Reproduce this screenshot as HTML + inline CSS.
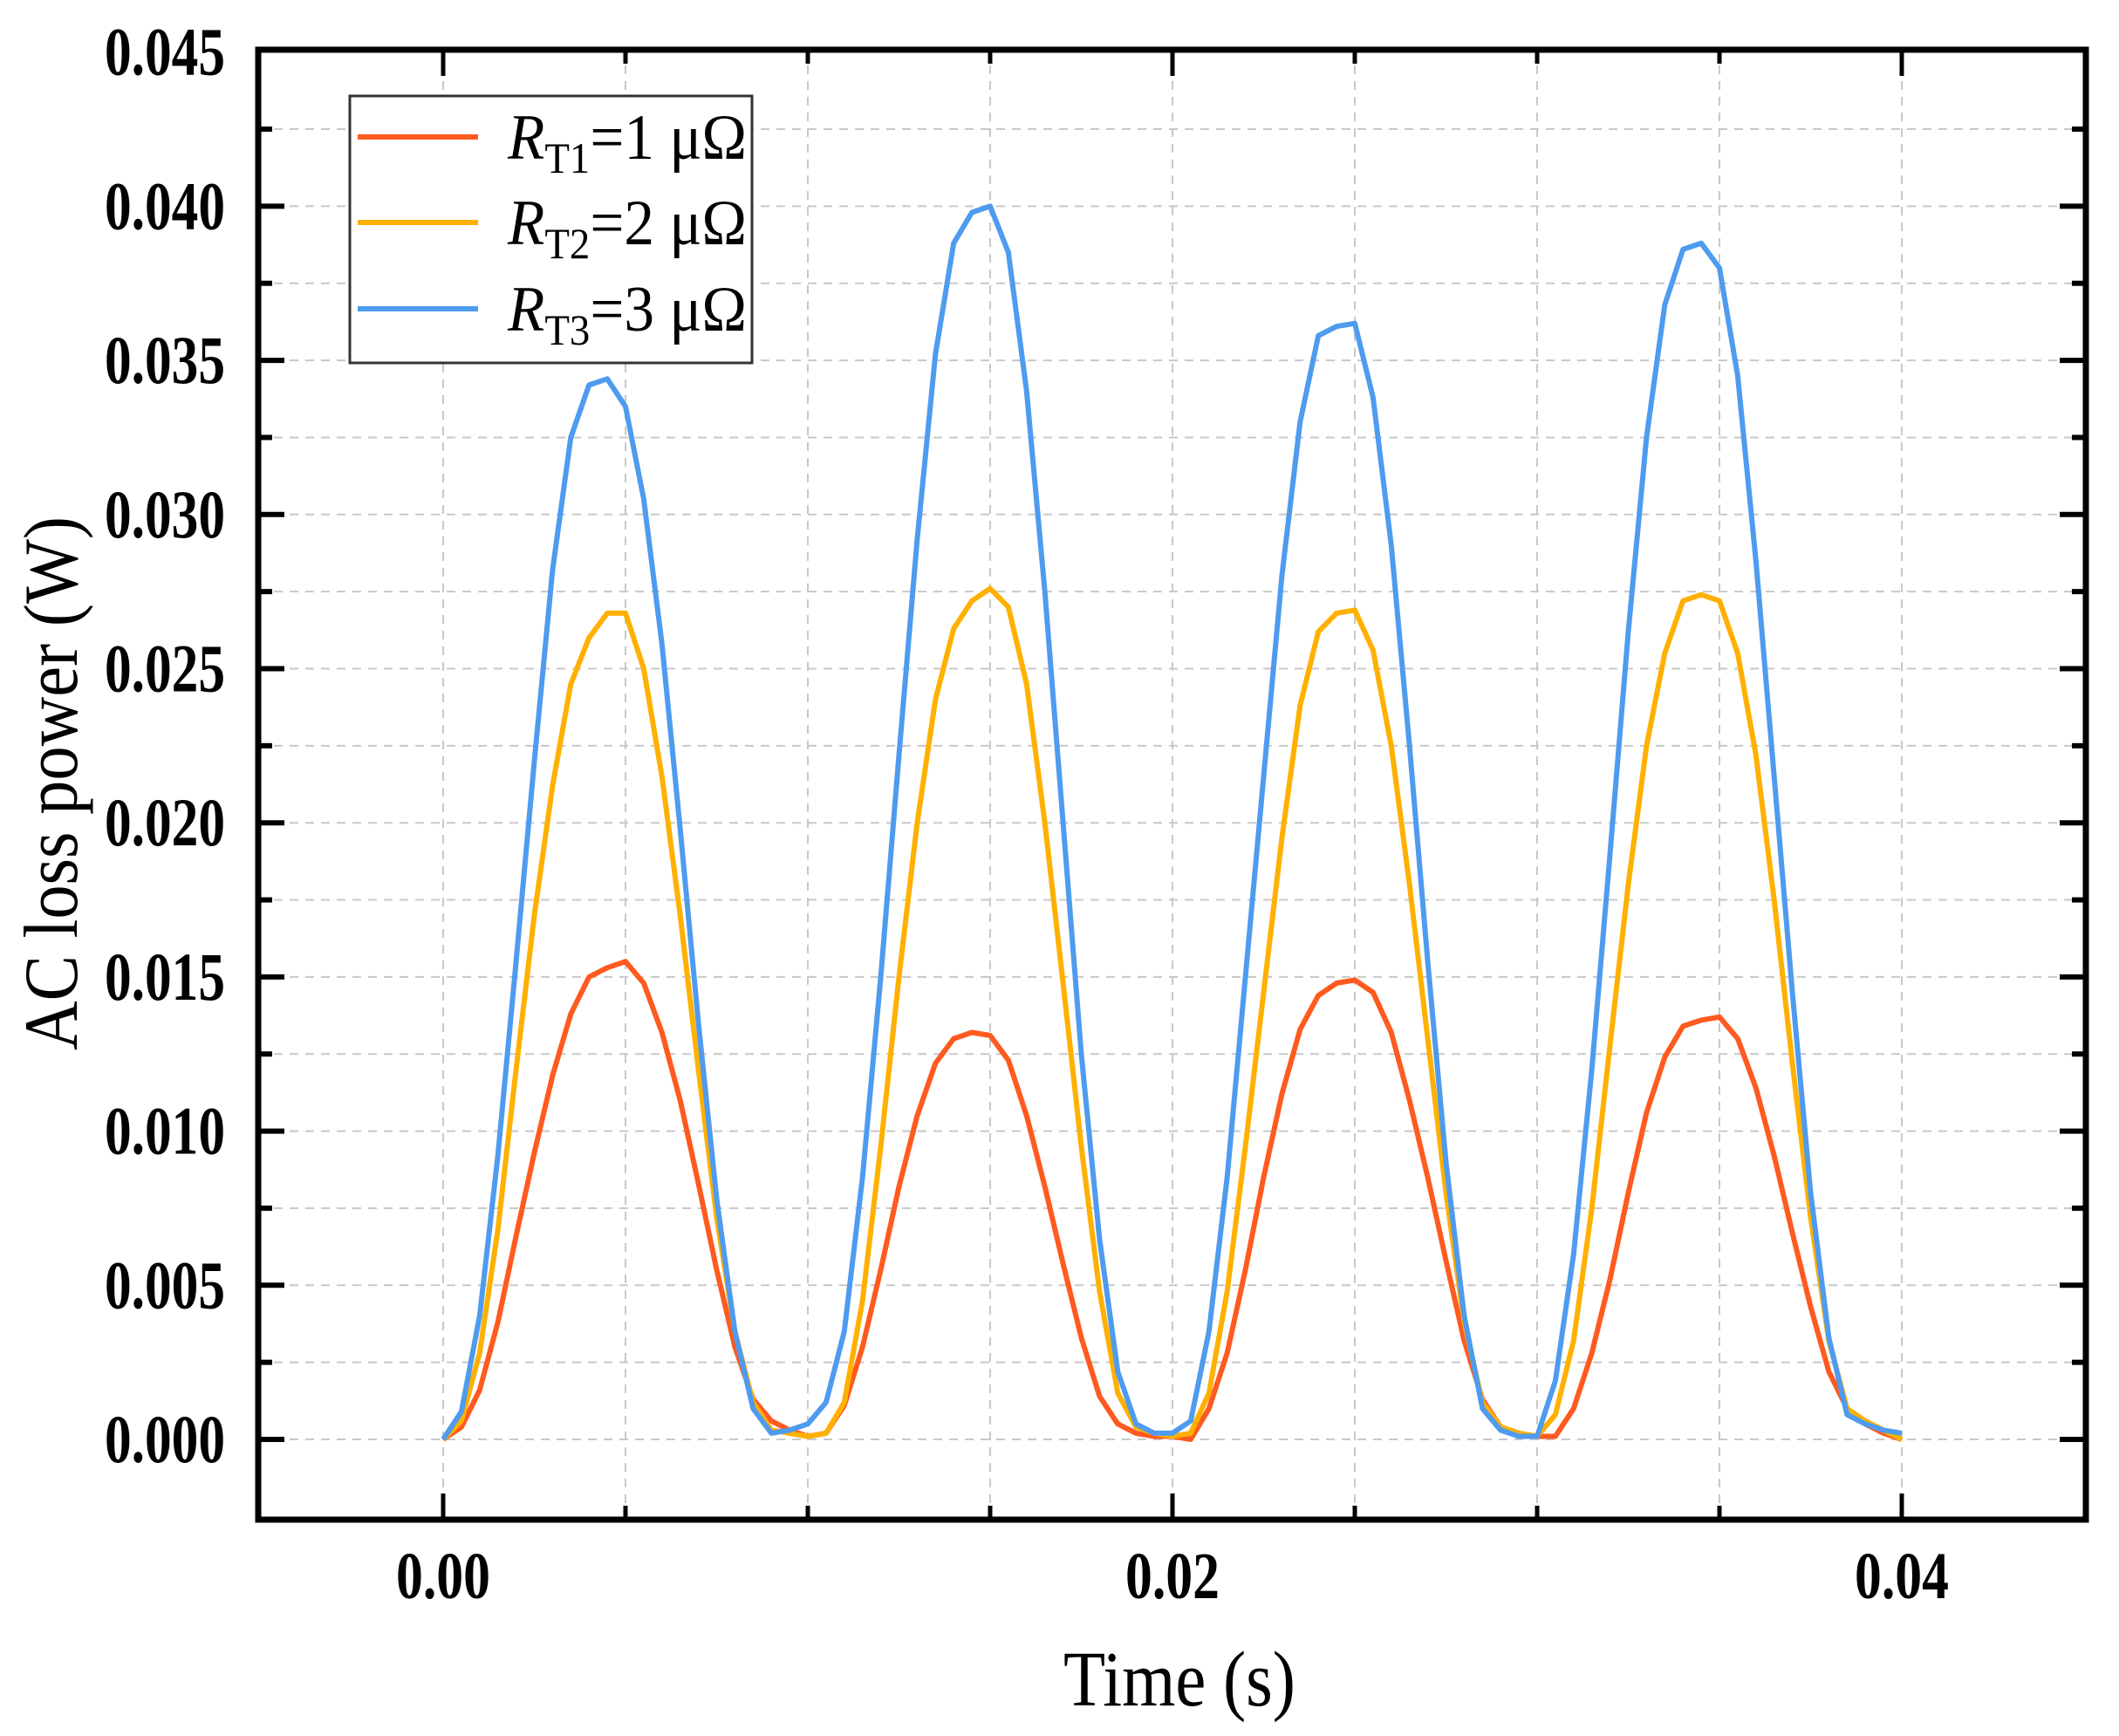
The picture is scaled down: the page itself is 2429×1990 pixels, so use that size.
<!DOCTYPE html>
<html><head><meta charset="utf-8"><style>
html,body{margin:0;padding:0;background:#fff;}
svg{display:block;}
text{font-family:"Liberation Serif",serif;}
</style></head><body>
<svg id="chart" width="2429" height="1990" viewBox="0 0 2429 1990" xmlns="http://www.w3.org/2000/svg">
<g id="grid"></g>
<g id="series"></g>
<g id="axes"></g>
<g id="legend">
  <rect x="401" y="110" width="461" height="306" fill="#fff" stroke="#333" stroke-width="3"/>
  <line x1="410" y1="157" x2="548" y2="157" stroke="#FF5A1F" stroke-width="6"/>
  <text x="582" y="182" font-size="74" textLength="274" lengthAdjust="spacingAndGlyphs"><tspan font-style="italic">R</tspan><tspan font-size="50" dy="16">T1</tspan><tspan dy="-16">=1 μΩ</tspan></text>
  <line x1="410" y1="255" x2="548" y2="255" stroke="#FFB000" stroke-width="6"/>
  <text x="582" y="280" font-size="74" textLength="274" lengthAdjust="spacingAndGlyphs"><tspan font-style="italic">R</tspan><tspan font-size="50" dy="16">T2</tspan><tspan dy="-16">=2 μΩ</tspan></text>
  <line x1="410" y1="354" x2="548" y2="354" stroke="#4E9BEF" stroke-width="6"/>
  <text x="582" y="379" font-size="74" textLength="274" lengthAdjust="spacingAndGlyphs"><tspan font-style="italic">R</tspan><tspan font-size="50" dy="16">T3</tspan><tspan dy="-16">=3 μΩ</tspan></text>
</g>
<text transform="translate(88,898) rotate(-90)" text-anchor="middle" font-size="88" textLength="612" lengthAdjust="spacingAndGlyphs">AC loss power (W)</text>
<text x="1352" y="1955" text-anchor="middle" font-size="90" textLength="266" lengthAdjust="spacingAndGlyphs">Time (s)</text>
</svg>
<script>
const xTickValues = [0, 0.02, 0.04];
const xTickLabels = ["0.00", "0.02", "0.04"];
const yTickValues = [0, 0.005, 0.01, 0.015, 0.02, 0.025, 0.03, 0.035, 0.04, 0.045];
const yTickLabels = ["0.000","0.005","0.010","0.015","0.020","0.025","0.030","0.035","0.040","0.045"];
const timeStep = 0.0005;
const rt1Values = [0,.0004,.0016,.0038,.0066,.0093,.0118,.0138,.0150,.0153,.0155,.0148,.0132,.0110,.0083,.0055,.0030,.0013,.0006,.0003,
 .0001,.0002,.0011,.0030,.0055,.0082,.0105,.0122,.0130,.0132,.0131,.0123,.0105,.0082,.0057,.0033,.0014,.0005,.0002,.0001,
 .0001,.0000,.0010,.0028,.0055,.0085,.0112,.0133,.0144,.0148,.0149,.0145,.0132,.0110,.0085,.0058,.0032,.0013,.0004,.0002,
 .0001,.0001,.0010,.0028,.0052,.0080,.0106,.0124,.0134,.0136,.0137,.0130,.0114,.0092,.0067,.0043,.0022,.0010,.0005,.0002,.0000];
const rt2Values = [0,.0006,.0028,.0068,.0120,.0170,.0212,.0245,.0260,.0268,.0268,.0250,.0215,.0170,.0120,.0072,.0035,.0012,.0003,.0002,
 .0001,.0002,.0012,.0045,.0095,.0150,.0200,.0240,.0263,.0272,.0276,.0270,.0245,.0200,.0148,.0095,.0048,.0015,.0004,.0002,
 .0001,.0002,.0015,.0048,.0095,.0145,.0195,.0238,.0262,.0268,.0269,.0256,.0225,.0180,.0130,.0080,.0038,.0012,.0004,.0002,
 .0001,.0008,.0032,.0075,.0128,.0180,.0225,.0255,.0272,.0274,.0272,.0255,.0222,.0175,.0122,.0072,.0032,.0010,.0006,.0003,.0000];
const rt3Values = [0,.0009,.0040,.0092,.0155,.0220,.0282,.0325,.0342,.0344,.0335,.0305,.0258,.0198,.0135,.0078,.0035,.0010,.0002,.0003,
 .0005,.0012,.0035,.0085,.0150,.0222,.0292,.0352,.0388,.0398,.0400,.0385,.0340,.0275,.0200,.0125,.0065,.0022,.0005,.0002,
 .0002,.0006,.0035,.0085,.0150,.0215,.0280,.0330,.0358,.0361,.0362,.0338,.0290,.0225,.0155,.0090,.0040,.0010,.0003,.0001,
 .0001,.0019,.0060,.0120,.0190,.0262,.0325,.0368,.0386,.0388,.0380,.0345,.0285,.0215,.0145,.0080,.0033,.0008,.0005,.0003,.0002];
const seriesColors = ["#FF5A1F", "#FFB000", "#4E9BEF"];

const L = 296, R = 2391, T = 57, B = 1742;
function xs(t){ return 508 + 41800 * t; }
function ys(v){ return 1650 - 35340 * v; }
const NS = "http://www.w3.org/2000/svg";
function mk(tag, attrs, parent){ const e = document.createElementNS(NS, tag); for (const k in attrs) e.setAttribute(k, attrs[k]); parent.appendChild(e); return e; }

const grid = document.getElementById('grid');
for (let i = 0; i <= 8; i++) {
  const x = xs(i * 0.005);
  const g = mk('line', {x1:x, y1:T, x2:x, y2:B, stroke:'#c8c8c8', 'stroke-width':2, 'stroke-dasharray':'10,8'}, grid);
  
  
}
for (let i = 0; i <= 17; i++) {
  const y = ys(i * 0.0025);
  const g = mk('line', {x1:L, y1:y, x2:R, y2:y, stroke:'#c8c8c8', 'stroke-width':2, 'stroke-dasharray':'10,8'}, grid);
  
  
}

const series = document.getElementById('series');
const all = [rt1Values, rt2Values, rt3Values];
const names = ['series-rt1', 'series-rt2', 'series-rt3'];
all.forEach((vals, si) => {
  const pts = vals.map((v, i) => xs(i * timeStep).toFixed(1) + ',' + ys(v).toFixed(1)).join(' ');
  const p = mk('polyline', {points:pts, fill:'none', stroke:seriesColors[si], 'stroke-width':6, 'stroke-linejoin':'round'}, series);
  
  
});

const axes = document.getElementById('axes');
const frame = mk('rect', {x:L, y:T, width:R-L, height:B-T, fill:'none', stroke:'#000', 'stroke-width':7}, axes);


for (let i = 0; i <= 17; i++) {
  const v = i * 0.0025, y = ys(v), len = (i % 2 === 0) ? 30 : 16;
  const t1 = mk('line', {x1:L, y1:y, x2:L+len, y2:y, stroke:'#000', 'stroke-width':6}, axes);
  
  
  const t2 = mk('line', {x1:R, y1:y, x2:R-len, y2:y, stroke:'#000', 'stroke-width':6}, axes);
  
  
}
for (let i = 0; i <= 8; i++) {
  const x = xs(i * 0.005), len = (i % 4 === 0) ? 30 : 16;
  const t1 = mk('line', {x1:x, y1:B, x2:x, y2:B-len, stroke:'#000', 'stroke-width':5}, axes);
  
  
  const t2 = mk('line', {x1:x, y1:T, x2:x, y2:T+len, stroke:'#000', 'stroke-width':5}, axes);
  
  
}
yTickValues.forEach((v, i) => {
  const t = mk('text', {x:258, y:ys(v)+26, 'text-anchor':'end', 'font-size':78, 'font-weight':'bold', textLength:138, lengthAdjust:'spacingAndGlyphs'}, axes);
  t.textContent = yTickLabels[i];
  
  
});
xTickValues.forEach((v, i) => {
  const t = mk('text', {x:xs(v), y:1832, 'text-anchor':'middle', 'font-size':76, 'font-weight':'bold', textLength:108, lengthAdjust:'spacingAndGlyphs'}, axes);
  t.textContent = xTickLabels[i];
  
  
});
</script>
</body></html>
